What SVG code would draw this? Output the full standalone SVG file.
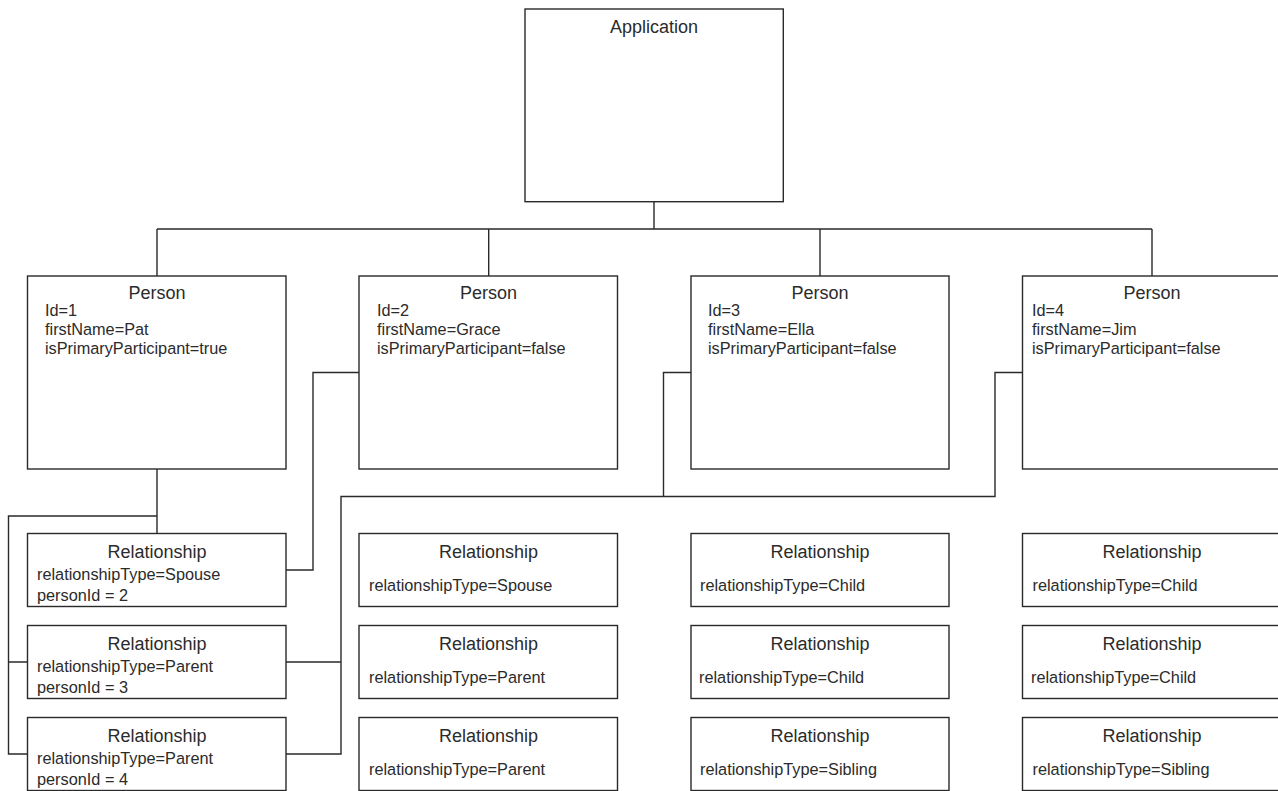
<svg xmlns="http://www.w3.org/2000/svg" width="1278" height="791" viewBox="0 0 1278 791">
<style>
.box{fill:#fff;stroke:#2a2a2a;stroke-width:1.4}
.t{font-family:"Liberation Sans",Arial,sans-serif;font-size:18px;fill:#2b2b2b;text-anchor:middle}
.b{font-family:"Liberation Sans",Arial,sans-serif;font-size:16.3px;fill:#2b2b2b}
.c{fill:none;stroke:#2a2a2a;stroke-width:1.4}
</style>
<rect width="1278" height="791" fill="#fff"/>
<g id="connectors">
<path class="c" d="M654 202V229M157 229H1152M157 229V276M488.7 229V276M820 229V276M1152 229V276"/>
<path class="c" d="M157 469V533.5M157 516H8.5V754H27.5M8.5 662H27.5"/>
<path class="c" d="M286 570H313V372.5H359"/>
<path class="c" d="M286 662H341M286 754H341V496.5H995V372.5H1022.5M663.5 496.5V372.5H691"/>
</g>
<g id="application">
<rect class="box" x="525" y="9" width="258.3" height="192.7"/>
<text class="t" x="654" y="33">Application</text>
</g>
<g id="person1">
<rect class="box" x="27.5" y="276" width="258.5" height="193"/>
<text class="t" x="157" y="299">Person</text>
<text class="b" x="45" y="316">Id=1</text>
<text class="b" x="45" y="335">firstName=Pat</text>
<text class="b" x="45" y="354">isPrimaryParticipant=true</text>
</g>
<g id="person2">
<rect class="box" x="359" y="276" width="258.5" height="193"/>
<text class="t" x="488.5" y="299">Person</text>
<text class="b" x="377" y="316">Id=2</text>
<text class="b" x="377" y="335">firstName=Grace</text>
<text class="b" x="377" y="354">isPrimaryParticipant=false</text>
</g>
<g id="person3">
<rect class="box" x="691" y="276" width="258" height="193"/>
<text class="t" x="820" y="299">Person</text>
<text class="b" x="708" y="316">Id=3</text>
<text class="b" x="708" y="335">firstName=Ella</text>
<text class="b" x="708" y="354">isPrimaryParticipant=false</text>
</g>
<g id="person4">
<rect class="box" x="1022.5" y="276" width="258.5" height="193"/>
<text class="t" x="1152" y="299">Person</text>
<text class="b" x="1032" y="316">Id=4</text>
<text class="b" x="1032" y="335">firstName=Jim</text>
<text class="b" x="1032" y="354">isPrimaryParticipant=false</text>
</g>
<g id="rel1a">
<rect class="box" x="27.5" y="533.5" width="258.5" height="73"/>
<text class="t" x="157" y="558">Relationship</text>
<text class="b" x="37" y="580">relationshipType=Spouse</text>
<text class="b" x="37" y="601">personId = 2</text>
</g>
<g id="rel1b">
<rect class="box" x="27.5" y="625.5" width="258.5" height="73"/>
<text class="t" x="157" y="650">Relationship</text>
<text class="b" x="37" y="672">relationshipType=Parent</text>
<text class="b" x="37" y="693">personId = 3</text>
</g>
<g id="rel1c">
<rect class="box" x="27.5" y="717.5" width="258.5" height="73"/>
<text class="t" x="157" y="742">Relationship</text>
<text class="b" x="37" y="764">relationshipType=Parent</text>
<text class="b" x="37" y="785">personId = 4</text>
</g>
<g id="rel2a">
<rect class="box" x="359" y="533.5" width="258.5" height="73"/>
<text class="t" x="488.5" y="558">Relationship</text>
<text class="b" x="369" y="591">relationshipType=Spouse</text>
</g>
<g id="rel2b">
<rect class="box" x="359" y="625.5" width="258.5" height="73"/>
<text class="t" x="488.5" y="650">Relationship</text>
<text class="b" x="369" y="683">relationshipType=Parent</text>
</g>
<g id="rel2c">
<rect class="box" x="359" y="717.5" width="258.5" height="73"/>
<text class="t" x="488.5" y="742">Relationship</text>
<text class="b" x="369" y="775">relationshipType=Parent</text>
</g>
<g id="rel3a">
<rect class="box" x="691" y="533.5" width="258" height="73"/>
<text class="t" x="820" y="558">Relationship</text>
<text class="b" x="700" y="591">relationshipType=Child</text>
</g>
<g id="rel3b">
<rect class="box" x="691" y="625.5" width="258" height="73"/>
<text class="t" x="820" y="650">Relationship</text>
<text class="b" x="699" y="683">relationshipType=Child</text>
</g>
<g id="rel3c">
<rect class="box" x="691" y="717.5" width="258" height="73"/>
<text class="t" x="820" y="742">Relationship</text>
<text class="b" x="700" y="775">relationshipType=Sibling</text>
</g>
<g id="rel4a">
<rect class="box" x="1022.5" y="533.5" width="258.5" height="73"/>
<text class="t" x="1152" y="558">Relationship</text>
<text class="b" x="1032.5" y="591">relationshipType=Child</text>
</g>
<g id="rel4b">
<rect class="box" x="1022.5" y="625.5" width="258.5" height="73"/>
<text class="t" x="1152" y="650">Relationship</text>
<text class="b" x="1031" y="683">relationshipType=Child</text>
</g>
<g id="rel4c">
<rect class="box" x="1022.5" y="717.5" width="258.5" height="73"/>
<text class="t" x="1152" y="742">Relationship</text>
<text class="b" x="1032.5" y="775">relationshipType=Sibling</text>
</g>
</svg>
